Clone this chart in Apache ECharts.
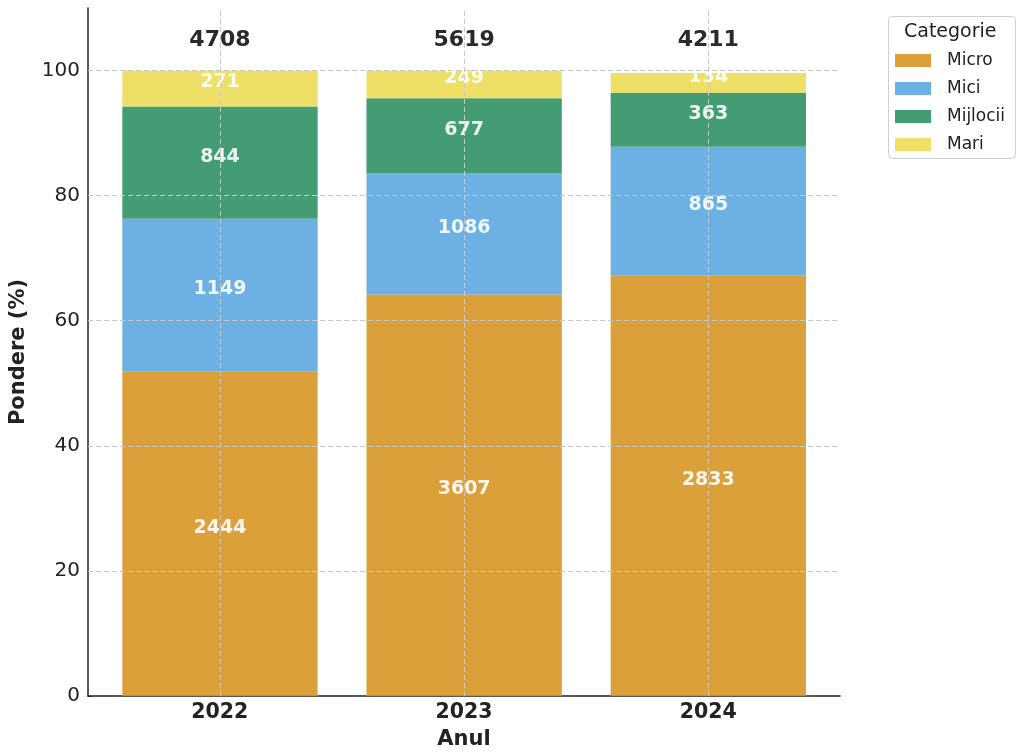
<!DOCTYPE html>
<html>
<head>
<meta charset="utf-8">
<script src="https://cdn.jsdelivr.net/npm/echarts@6/dist/echarts.min.js"></script>
<style>html,body{margin:0;padding:0;background:#fff}#c{width:1024px;height:756px}</style>
</head>
<body>
<div id="c"></div>
<script>
const years = ['2022', '2023', '2024'];
const micro = [2444, 3607, 2833];
const mici = [1149, 1086, 865];
const mijlocii = [844, 677, 363];
const mari = [271, 249, 134];
const totals = [4708, 5619, 4211];
const yTicks = [0, 20, 40, 60, 80, 100];
const catNames = ['Micro', 'Mici', 'Mijlocii', 'Mari'];
const catColors = ['#D79624', '#5DA7E0', '#309165', '#ECDC55'];
const catCounts = [micro, mici, mijlocii, mari];

const FONT = 'DejaVu Sans';
const chart = echarts.init(document.getElementById('c'), null, {renderer: 'canvas'});

const barSeries = catNames.map((name, k) => ({
  name: name,
  type: 'bar',
  stack: 'total',
  xAxisIndex: 0,
  yAxisIndex: 0,
  barWidth: 195.3,
  z: 2,
  itemStyle: {color: catColors[k], opacity: 0.9},
  label: {
    show: true,
    position: 'inside',
    offset: [0, -6],
    color: '#fff',
    fontFamily: FONT,
    fontWeight: 'bold',
    fontSize: 19,
    formatter: p => String(catCounts[k][p.dataIndex])
  },
  data: years.map((y, i) => catCounts[k][i] / totals[i] * 100)
}));

const gridLineStyle = {color: '#c8c8c8', type: [5, 3], width: 1};

const option = {
  animation: false,
  textStyle: {fontFamily: FONT},
  grid: [
    {left: 97.9, right: 193.6, top: 8, bottom: 60, containLabel: false},
    {left: 88, right: 184, top: 8, bottom: 60, containLabel: false}
  ],
  xAxis: [
    {
      type: 'category',
      gridIndex: 0,
      data: years,
      boundaryGap: true,
      show: false
    },
    {
      type: 'value',
      gridIndex: 1,
      min: -0.54,
      max: 2.54,
      name: 'Anul',
      nameLocation: 'middle',
      nameGap: 33,
      nameTextStyle: {fontFamily: FONT, fontWeight: 'bold', fontSize: 21, color: '#222'},
      axisLine: {show: true, onZero: false, lineStyle: {color: '#222', width: 1.5}},
      axisTick: {show: true, inside: true, length: 5, customValues: [0, 1, 2], lineStyle: {color: '#222'}},
      axisLabel: {
        customValues: [0, 1, 2],
        margin: 6,
        fontFamily: FONT, fontWeight: 'bold', fontSize: 20.5, color: '#222',
        formatter: v => years[Math.round(v)]
      },
      splitLine: {show: false}
    }
  ],
  yAxis: [
    {
      type: 'value',
      gridIndex: 0,
      min: 0,
      max: 110,
      show: false
    },
    {
      type: 'value',
      gridIndex: 1,
      min: 0,
      max: 110,
      name: 'Pondere (%)',
      nameLocation: 'middle',
      nameGap: 59,
      nameTextStyle: {fontFamily: FONT, fontWeight: 'bold', fontSize: 21, color: '#222'},
      axisLine: {show: true, onZero: false, lineStyle: {color: '#222', width: 1.5}},
      axisTick: {show: true, inside: true, length: 4, customValues: yTicks, lineStyle: {color: '#222'}},
      axisLabel: {
        customValues: yTicks,
        margin: 8,
        fontFamily: FONT, fontSize: 20, color: '#222'
      },
      splitLine: {show: false}
    }
  ],
  legend: {
    data: catNames,
    orient: 'vertical',
    left: 895,
    top: 52,
    padding: 0,
    itemWidth: 36,
    itemHeight: 13,
    itemGap: 11,
    icon: 'rect',
    textStyle: {fontFamily: FONT, fontSize: 17, color: '#222', padding: [0, 0, 0, 11]}
  },
  graphic: [
    {type: 'rect', left: 888, top: 16, z: -1, shape: {width: 127, height: 142, r: 4},
     style: {fill: '#fff', stroke: '#d0d0d0', lineWidth: 1}},
    {type: 'text', left: 904, top: 23, z: 10,
     style: {text: 'Categorie', fontFamily: FONT, fontSize: 19, fill: '#222'}}
  ],
  series: [
    {
      type: 'line',
      xAxisIndex: 1,
      yAxisIndex: 1,
      data: [],
      z: 1,
      silent: true,
      markLine: {
        silent: true,
        symbol: ['none', 'none'],
        label: {show: false},
        lineStyle: gridLineStyle,
        data: yTicks.filter(v => v > 0).map(v => ({yAxis: v}))
          .concat(years.map((y, i) => ({xAxis: i})))
      }
    },
    ...barSeries,
    {
      type: 'scatter',
      xAxisIndex: 0,
      yAxisIndex: 0,
      symbolSize: 0,
      z: 5,
      silent: true,
      itemStyle: {opacity: 1},
      label: {
        show: true,
        position: 'inside',
        color: '#2a2a2a',
        fontFamily: FONT,
        fontWeight: 'bold',
        fontSize: 22,
        formatter: p => String(totals[p.dataIndex])
      },
      data: years.map((y, i) => 104.8)
    }
  ]
};
chart.setOption(option);
</script>
</body>
</html>
